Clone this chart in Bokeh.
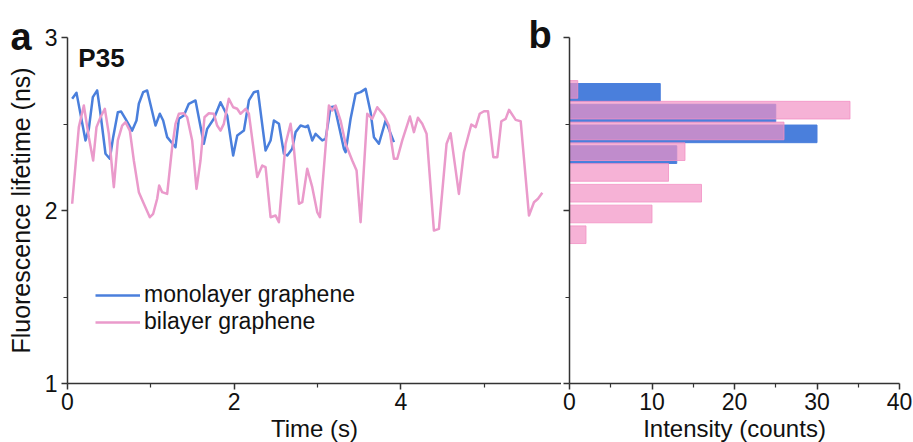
from bokeh.plotting import figure
from bokeh.layouts import row
from bokeh.models import FixedTicker, Legend, LegendItem, Label, Title
from bokeh.embed import file_html
from bokeh.resources import INLINE

# ---- data ----
mono_t = [0.056,0.108,0.216,0.256,0.304,0.356,0.396,0.456,0.508,0.548,0.604,0.644,0.696,0.776,0.828,0.856,0.908,0.956,
          1.056,1.108,1.148,1.196,1.296,1.336,1.396,1.456,1.536,1.636,1.676,1.756,1.836,1.916,1.988,
          2.037,2.117,2.177,2.237,2.285,2.377,2.437,2.477,2.537,2.597,2.637,2.697,2.737,2.797,2.857,2.885,2.937,2.977,
          3.057,3.097,3.157,3.205,3.269,3.317,3.337,3.397,3.457,3.517,3.577,3.637,3.677,3.737,3.817,3.917]
mono_v = [2.646,2.680,2.405,2.472,2.655,2.694,2.559,2.328,2.299,2.424,2.568,2.572,2.530,2.462,2.520,2.617,2.684,2.694,
          2.491,2.559,2.520,2.424,2.366,2.530,2.549,2.617,2.636,2.386,2.472,2.530,2.626,2.549,2.318,
          2.434,2.462,2.636,2.684,2.690,2.347,2.405,2.520,2.501,2.328,2.318,2.357,2.453,2.491,2.482,2.491,2.405,2.443,
          2.405,2.414,2.597,2.601,2.462,2.357,2.337,2.530,2.674,2.684,2.703,2.568,2.424,2.386,2.520,2.395]

bi_t = [0.056,0.136,0.196,0.256,0.308,0.348,0.396,0.448,0.496,0.556,0.604,0.656,0.696,0.748,0.796,0.856,0.916,0.988,1.028,1.076,
        1.100,1.136,1.196,1.256,1.296,1.336,1.396,1.436,1.496,1.548,1.596,1.644,1.696,1.756,1.796,1.836,1.876,1.936,1.988,2.036,2.076,
        2.137,2.177,2.277,2.337,2.377,2.437,2.497,2.537,2.617,2.677,2.717,2.777,2.817,2.877,2.937,2.997,3.029,3.137,3.177,3.217,
        3.277,3.337,3.417,3.469,3.517,3.597,3.657,3.717,3.797,3.857,3.917,3.957,4.017,
        4.109,4.157,4.205,4.257,4.309,4.397,4.457,4.549,4.597,4.697,4.757,4.846,4.898,4.946,4.998,5.046,5.110,5.158,5.206,5.258,
        5.298,5.378,5.438,5.538,5.598,5.646,5.698]
bi_v = [2.039,2.482,2.607,2.424,2.289,2.482,2.539,2.588,2.443,2.135,2.405,2.491,2.511,2.462,2.289,2.106,2.039,1.961,1.981,2.068,
        2.145,2.106,2.096,2.366,2.501,2.559,2.562,2.539,2.405,2.125,2.289,2.539,2.562,2.559,2.491,2.462,2.501,2.646,2.597,2.588,2.559,
        2.588,2.559,2.193,2.260,2.251,1.961,1.971,1.932,2.386,2.501,2.357,2.039,2.048,2.241,2.135,1.990,1.961,2.607,2.578,2.607,
        2.520,2.386,2.289,2.231,1.932,2.559,2.530,2.597,2.549,2.491,2.299,2.299,2.405,
        2.543,2.453,2.536,2.501,2.443,1.884,1.894,2.386,2.447,2.096,2.337,2.497,2.482,2.559,2.574,2.574,2.308,2.308,2.516,2.530,
        2.582,2.524,2.516,1.971,2.048,2.068,2.102]

bin_centers = [2.70, 2.58, 2.46, 2.34, 2.22, 2.10, 1.98, 1.86]
mono_counts = [11, 25, 30, 13, 0, 0, 0, 0]
bi_counts = [1, 34, 26, 14, 12, 16, 10, 2]

time_ticks = [0, 2, 4]
count_ticks = [0, 10, 20, 30, 40]
life_ticks = [1, 2, 3]

BLUE = "#4a7fdc"
PINK_LINE = "#ea9acb"
PINK_BAR = "#f291c4"
AX = "#333333"
TXT = "#111111"
FONT = "Liberation Sans"
FS = "23px"
FS_LABEL = "24px"


def style_axes(p):
    for ax in list(p.xaxis) + list(p.yaxis):
        ax.axis_line_color = AX
        ax.axis_line_width = 1.5
        ax.major_tick_line_color = AX
        ax.minor_tick_line_color = AX
        ax.major_tick_line_width = 1.5
        ax.minor_tick_line_width = 1.2
        ax.major_tick_in = 0
        ax.major_tick_out = 6
        ax.minor_tick_in = 0
        ax.minor_tick_out = 4
        ax.major_label_text_font = FONT
        ax.major_label_text_font_size = FS
        ax.major_label_text_color = TXT
        ax.axis_label_text_font = FONT
        ax.axis_label_text_font_size = FS_LABEL
        ax.axis_label_text_font_style = "normal"
        ax.axis_label_text_color = TXT
    p.xgrid.visible = False
    p.ygrid.visible = False
    p.outline_line_color = None


# ---- panel a ----
p1 = figure(frame_width=494, frame_height=346, x_range=(0, 5.928), y_range=(1, 3),
            min_border_left=67, min_border_right=0, min_border_top=37, min_border_bottom=59,
            output_backend="svg", toolbar_location=None)
r_mono = p1.line(mono_t, mono_v, line_color=BLUE, line_width=2.5, line_join="round")
r_bi = p1.line(bi_t, bi_v, line_color=PINK_LINE, line_width=2.5, line_join="round")
p1.xaxis.ticker = FixedTicker(ticks=time_ticks, minor_ticks=[1, 3, 5])
p1.yaxis.ticker = FixedTicker(ticks=life_ticks, minor_ticks=[1.5, 2.5])
p1.xaxis.axis_label = "Time (s)"
p1.yaxis.axis_label = "Fluorescence lifetime (ns)"
p1.xaxis.major_label_standoff = 3
p1.xaxis.axis_label_standoff = 2
p1.yaxis.major_label_standoff = 4
p1.yaxis.axis_label_standoff = 7
style_axes(p1)
p1.yaxis.axis_label_text_font_size = "25px"

legend = Legend(items=[LegendItem(label="monolayer graphene", renderers=[r_mono]),
                       LegendItem(label="bilayer graphene", renderers=[r_bi])],
                location=(28, 48), background_fill_alpha=0, border_line_color=None,
                glyph_width=45, glyph_height=24, label_height=24, label_standoff=4,
                spacing=0, padding=0, margin=0,
                label_text_font=FONT, label_text_font_size=FS, label_text_color=TXT)
p1.add_layout(legend)

p1.add_layout(Label(x=0.13, y=2.879, text="P35", text_font=FONT, text_font_size="26px",
                    text_font_style="bold", text_color=TXT, text_baseline="alphabetic"))

# panel letters, drawn as titles above the frame so that they are not clipped
for letter, off in [("a", -57), ("b", 461)]:
    p1.add_layout(Title(text=letter, align="left", offset=off, vertical_align="middle",
                        standoff=-42, text_font=FONT, text_font_size="38px",
                        text_font_style="bold", text_color=TXT), "above")

# ---- panel b ----
p2 = figure(frame_width=330, frame_height=346, x_range=(0, 40), y_range=(1, 3),
            min_border_left=8, min_border_right=14, min_border_top=37, min_border_bottom=59,
            output_backend="svg", toolbar_location=None)
bar_h = 0.102
blue_y = [c - 0.017 for c in bin_centers]
p2.hbar(y=blue_y, right=mono_counts, left=0, height=bar_h, fill_color=BLUE,
        line_color=BLUE, line_width=1)
p2.hbar(y=bin_centers, right=bi_counts, left=0, height=bar_h, fill_color=PINK_BAR,
        fill_alpha=0.7, line_color=PINK_BAR, line_alpha=0.8, line_width=1)
p2.xaxis.ticker = FixedTicker(ticks=count_ticks, minor_ticks=[5, 15, 25, 35])
p2.yaxis.ticker = FixedTicker(ticks=life_ticks, minor_ticks=[1.5, 2.5])
p2.xaxis.axis_label = "Intensity (counts)"
p2.xaxis.major_label_standoff = 3
p2.xaxis.axis_label_standoff = 2
style_axes(p2)
p2.yaxis.major_label_text_font_size = "1px"
p2.yaxis.major_label_text_color = None
p2.yaxis.major_label_standoff = 0

layout = row(p1, p2)
open("out.html", "w").write(file_html(layout, INLINE))
